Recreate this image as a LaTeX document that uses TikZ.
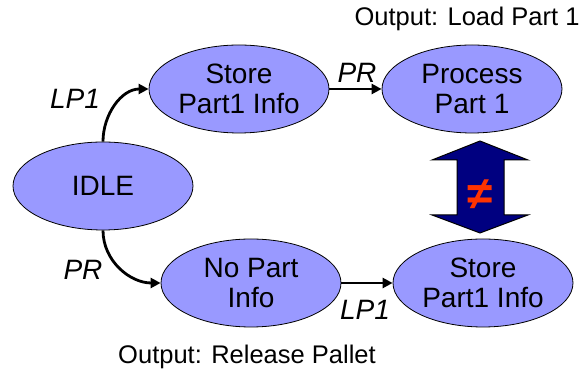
\documentclass[tikz,border=0pt]{standalone}
\usepackage{fontspec}
\setmainfont{Liberation Sans}
\usetikzlibrary{shapes.geometric,arrows.meta}
\definecolor{statefill}{HTML}{9999FF}
\definecolor{bignavy}{HTML}{000080}
\definecolor{neqred}{HTML}{FF3300}
\tikzset{
  state/.style={ellipse,draw=black,line width=0.8pt,fill=statefill,minimum width=180pt,minimum height=88pt,inner sep=0pt,align=center,font=\fontsize{28}{30}\selectfont},
  trans/.style={line width=2.8pt,-{Triangle[length=10pt,width=10pt]}},
  lbl/.style={font=\fontsize{28}{30}\selectfont\itshape},
  outtext/.style={font=\fontsize{25.5}{30}\selectfont}
}
\begin{document}
\begin{tikzpicture}[x=1pt,y=1pt]
\useasboundingbox (0,0) rectangle (582,377);

\node[state] (idle) at (103,191) {IDLE};
\node[state] (store) at (239,288) {Store\\Part1 Info};
\node[state] (process) at (472,288) {Process\\Part 1};
\node[state] (nopart) at (251,94) {No Part\\Info};
\node[state] (storeb) at (483,94) {Store\\Part1 Info};

\draw[trans] (idle.north) to[out=90,in=180] (store.west);
\draw[trans] (idle.south) to[out=-90,in=180] (nopart.west);
\draw[trans] (store.east) -- (process.west);
\draw[trans] (nopart.east) -- (storeb.west);

\node[lbl] (lpa) at (75,278) {LP1};
\node[lbl] (pra) at (83,107) {PR};
\node[lbl] (prb) at (357,304) {PR};
\node[lbl] (lpb) at (365,67) {LP1};

\draw[fill=bignavy,line width=1pt] (480,236) -- (528,217) -- (504,217) -- (504,162) -- (528,162) -- (480,144) -- (432,162) -- (457,162) -- (457,217) -- (432,217) -- cycle;
\node[text=neqred,font=\fontsize{46}{46}\selectfont\bfseries] (neq) at (480,182) {≠};

\node[outtext] (outload) at (467,358) {Output: Load Part 1};
\node[outtext] (outrel) at (247,20) {Output: Release Pallet};
\end{tikzpicture}
\end{document}
